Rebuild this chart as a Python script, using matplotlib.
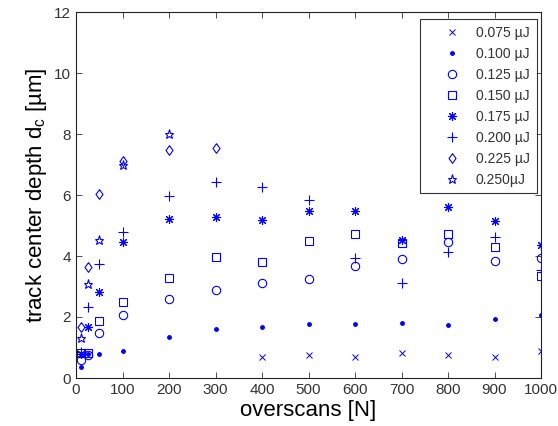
import matplotlib
matplotlib.use("Agg")
import matplotlib.pyplot as plt
import numpy as np

plt.rcParams['font.family'] = ['Liberation Sans', 'DejaVu Sans']
plt.rcParams['mathtext.fontset'] = 'custom'
plt.rcParams['mathtext.rm'] = 'Liberation Sans'
plt.rcParams['mathtext.it'] = 'Liberation Sans:italic'

# data
n_075 = [400, 500, 600, 700, 800, 900, 1000]
d_075 = [0.68, 0.76, 0.68, 0.81, 0.76, 0.68, 0.90]

n_100 = [10, 25, 50, 100, 200, 300, 400, 500, 600, 700, 800, 900, 1000]
d_100 = [0.37, 0.80, 0.78, 0.89, 1.35, 1.60, 1.67, 1.77, 1.77, 1.81, 1.73, 1.93, 2.08]

n_125 = [10, 25, 50, 100, 200, 300, 400, 500, 600, 700, 800, 900, 1000]
d_125 = [0.59, 0.75, 1.49, 2.05, 2.59, 2.89, 3.11, 3.24, 3.68, 3.91, 4.45, 3.82, 3.93]

n_150 = [10, 25, 50, 100, 200, 300, 400, 500, 600, 700, 800, 900, 1000]
d_150 = [0.83, 0.82, 1.88, 2.48, 3.28, 3.97, 3.79, 4.50, 4.73, 4.43, 4.73, 4.30, 3.33]

n_175 = [10, 25, 50, 100, 200, 300, 400, 500, 600, 700, 800, 900, 1000]
d_175 = [0.80, 1.67, 2.83, 4.45, 5.22, 5.28, 5.19, 5.49, 5.49, 4.51, 5.61, 5.14, 4.37]

n_200 = [10, 25, 50, 100, 200, 300, 400, 500, 600, 700, 800, 900, 1000]
d_200 = [0.85, 2.34, 3.75, 4.78, 5.98, 6.42, 6.26, 5.83, 3.93, 3.11, 4.12, 4.62, 3.55]

n_225 = [10, 25, 50, 100, 200, 300]
d_225 = [1.67, 3.63, 6.04, 7.13, 7.47, 7.53]

n_250 = [10, 25, 50, 100, 200]
d_250 = [1.30, 3.08, 4.51, 6.98, 7.99]

labels = ['0.075 µJ', '0.100 µJ', '0.125 µJ', '0.150 µJ',
          '0.175 µJ', '0.200 µJ', '0.225 µJ', '0.250µJ']

x_ticks = [0, 100, 200, 300, 400, 500, 600, 700, 800, 900, 1000]
y_ticks = [0, 2, 4, 6, 8, 10, 12]

blue = (0, 0, 1)
diamond = [(0, 1), (0.72, 0), (0, -1), (-0.72, 0), (0, 1)]

fig = plt.figure(figsize=(5.58, 4.26), dpi=100)
ax = fig.add_axes([76/558, 48/426, 465/558, 366/426])

series = [
    (n_075, d_075, dict(marker='x', ms=4.5, mew=0.7, mfc='none')),
    (n_100, d_100, dict(marker='.', ms=5.5, mew=0.7, mfc=blue)),
    (n_125, d_125, dict(marker='o', ms=6, mew=0.8, mfc='none')),
    (n_150, d_150, dict(marker='s', ms=6, mew=0.8, mfc='none')),
    (n_175, d_175, dict(marker=(8, 2, 0), ms=6.5, mew=0.8, mfc='none')),
    (n_200, d_200, dict(marker='+', ms=7, mew=0.8, mfc='none')),
    (n_225, d_225, dict(marker=diamond, ms=7, mew=0.8, mfc='none')),
    (n_250, d_250, dict(marker='*', ms=6.5, mew=0.8, mfc='none')),
]
for (xs, ys, st), lab in zip(series, labels):
    ax.plot(xs, ys, linestyle='none', color=blue, mec=blue, label=lab, **st)

ax.set_xlim(0, 1000)
ax.set_ylim(0, 12)
ax.set_xticks(x_ticks)
ax.set_yticks(y_ticks)
ax.tick_params(direction='in', top=True, right=True, length=4, width=0.6,
               labelsize=11, labelcolor='#333333', color='#333333')
for s in ax.spines.values():
    s.set_linewidth(0.8)
    s.set_color('#222222')

ax.set_xlabel('overscans [N]', fontsize=16, labelpad=2)
ax.set_ylabel(r'track center depth d$_\mathrm{c}$ [µm]', fontsize=16, labelpad=4)

leg = ax.legend(loc='upper right', bbox_to_anchor=(0.991, 0.981), fontsize=10,
                frameon=True, fancybox=False, edgecolor='black',
                handlelength=3.5, handletextpad=0.0, labelspacing=0.5,
                borderpad=0.5, borderaxespad=0.0)
leg.get_frame().set_linewidth(0.8)
for t in leg.get_texts():
    t.set_color('#333333')

fig.savefig('out.png', dpi=100)
